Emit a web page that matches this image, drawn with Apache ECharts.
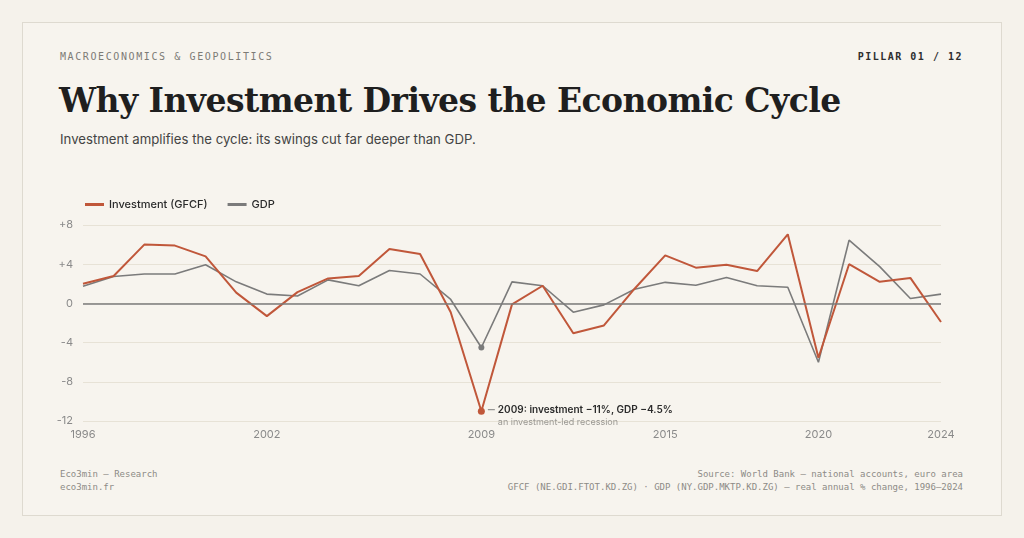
<!DOCTYPE html>
<html><head><meta charset="utf-8">
<script src="https://cdn.jsdelivr.net/npm/echarts@6/dist/echarts.min.js"></script>
<style>
html,body{margin:0;padding:0;background:#f5f2eb;width:1024px;height:538px;overflow:hidden;}
#card{position:absolute;left:22px;top:22px;width:978px;height:492px;border:1px solid #dedad0;background:#f7f4ee;}
.t{position:absolute;white-space:nowrap;}
#kicker{left:60px;top:51px;font:10px "DejaVu Sans Mono",monospace;letter-spacing:1.6px;color:#7d7b76;}
#pillar{right:61px;top:51px;font:bold 10px "DejaVu Sans Mono",monospace;letter-spacing:1.5px;color:#2e2e2e;}
#title{left:59px;top:81px;font:bold 33px "DejaVu Serif",serif;color:#1f1f1f;letter-spacing:-0.55px;}
#sub{left:60px;top:131px;font:13.2px Inter,sans-serif;color:#444;}
#f1{left:60px;top:468px;font:9px "DejaVu Sans Mono",monospace;color:#8d8b86;line-height:13px;}
#f2{right:61px;top:468px;font:9px "DejaVu Sans Mono",monospace;color:#8d8b86;line-height:13px;text-align:right;}
#chart{position:absolute;left:0;top:0;width:1024px;height:538px;}
</style></head>
<body>
<div id="card"></div>
<div class="t" id="kicker">MACROECONOMICS &amp; GEOPOLITICS</div>
<div class="t" id="pillar">PILLAR 01 / 12</div>
<div class="t" id="title">Why Investment Drives the Economic Cycle</div>
<div class="t" id="sub">Investment amplifies the cycle: its swings cut far deeper than GDP.</div>
<div class="t" id="f1">Eco3min — Research<br>eco3min.fr</div>
<div class="t" id="f2">Source: World Bank — national accounts, euro area<br>GFCF (NE.GDI.FTOT.KD.ZG) · GDP (NY.GDP.MKTP.KD.ZG) — real annual % change, 1996–2024</div>
<div id="chart"></div>
<script>
const years = ['1996','1997','1998','1999','2000','2001','2002','2003','2004','2005','2006','2007','2008','2009','2010','2011','2012','2013','2014','2015','2016','2017','2018','2019','2020','2021','2022','2023','2024'];
const investment = [2.0,2.8,6.0,5.9,4.8,1.1,-1.3,1.15,2.55,2.8,5.55,5.05,-0.9,-11.0,-0.1,1.8,-3.05,-2.25,1.5,4.9,3.65,3.95,3.3,7.05,-5.55,4.0,2.2,2.6,-1.9];
const gdp = [1.75,2.75,3.0,3.0,3.95,2.2,0.95,0.75,2.4,1.8,3.35,3.0,0.4,-4.5,2.2,1.8,-0.9,-0.15,1.45,2.15,1.85,2.65,1.8,1.65,-6.0,6.45,3.75,0.5,0.95];
const shownYears = ['1996','2002','2009','2015','2020','2024'];
const yTicks = {8:'+8',4:'+4',0:'0','-4':'-4','-8':'-8','-12':'-12'};

const chart = echarts.init(document.getElementById('chart'));
chart.setOption({
  animation:false,
  textStyle:{fontFamily:'Inter, sans-serif'},
  legend:{
    left:80, top:194, itemWidth:19, itemHeight:3, itemGap:20, icon:'rect',
    textStyle:{fontSize:11, color:'#2b2b2b', fontWeight:500},
    data:['Investment (GFCF)','GDP']
  },
  grid:{left:83, right:83, top:225, bottom:117},
  xAxis:{
    type:'category', data:years, boundaryGap:false,
    axisLine:{show:false}, axisTick:{show:false},
    axisLabel:{color:'#8a8a8a', fontSize:11, margin:8,
      interval:(i,v)=>shownYears.includes(v)}
  },
  yAxis:{
    type:'value', min:-12, max:8, interval:4,
    axisLine:{show:false}, axisTick:{show:false},
    axisLabel:{color:'#8a8a8a', fontSize:11, margin:10, formatter:v=>yTicks[v]},
    splitLine:{lineStyle:{color:'#e7e2d6', width:1}}
  },
  series:[
    {
      name:'Investment (GFCF)', type:'line', data:investment, symbol:'none',
      lineStyle:{color:'#c0573a', width:2}, itemStyle:{color:'#c0573a'}, z:3,
      markPoint:{
        silent:true, symbol:'circle', symbolSize:7, itemStyle:{color:'#c0573a'},
        data:[{coord:['2009',-11.0]}],
        label:{
          show:true, position:'right', distance:3, offset:[0,5],
          formatter:'{l|}{b|2009: investment −11%, GDP −4.5%}\n{s|an investment-led recession}',
          rich:{
            l:{width:7, height:1, backgroundColor:'#7d7d7d'},
            b:{fontSize:10, fontWeight:600, color:'#2b2b2b', padding:[0,0,0,3], lineHeight:13, fontFamily:'Inter'},
            s:{fontSize:9, color:'#9a9893', padding:[0,0,0,10], lineHeight:13, fontFamily:'Inter'}
          }
        }
      }
    },
    {
      name:'GDP', type:'line', data:gdp, symbol:'none',
      lineStyle:{color:'#7b7b7b', width:1.6}, itemStyle:{color:'#7b7b7b'}, z:2,
      markPoint:{
        silent:true, symbol:'circle', symbolSize:6, itemStyle:{color:'#7b7b7b'},
        data:[{coord:['2009',-4.5]}], label:{show:false}
      },
      markLine:{
        silent:true, symbol:'none', label:{show:false},
        lineStyle:{color:'#7b7b7b', width:1.5, type:'solid'},
        data:[{yAxis:0}]
      }
    }
  ]
});
</script>
</body></html>
